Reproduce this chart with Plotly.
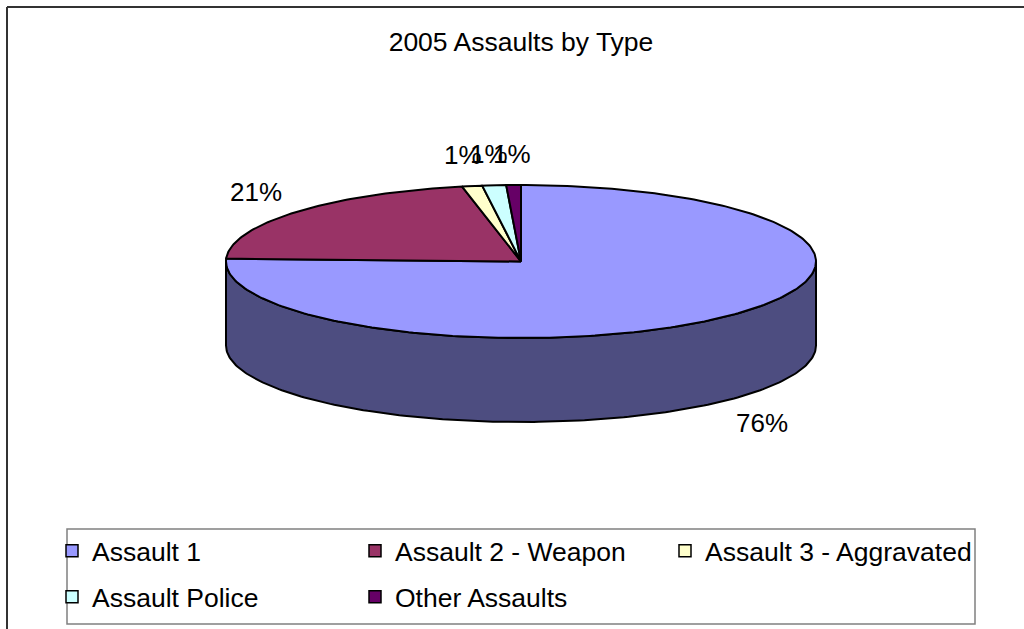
import numpy as np
import plotly.graph_objects as go

# ---- data ----
categories = ["Assault 1", "Assault 2 - Weapon", "Assault 3 - Aggravated",
              "Assault Police", "Other Assaults"]
values = [75.6, 21.2, 1.1, 1.3, 0.8]
top_colors = ["#9999FF", "#993366", "#FFFFCC", "#CCFFFF", "#660066"]
side_colors = ["#4D4D80", "#4D1A33", "#808066", "#668080", "#330033"]
title_text = "2005 Assaults by Type"

# ---- geometry (pixel space) ----
W, H = 1024, 629
CX, CY, RX, RY, DEPTH = 521, 261.5, 295, 76.5, 84
LX, LY = RX + 52, RY + 31
FONT = "Liberation Sans, Arial, sans-serif"
# legend slot positions (left x, top y) in pixels, one per category
LEG_X = [52, 355, 665, 52, 355]
LEG_Y = [527, 527, 527, 573, 573]


def arc(a, b, dy=0.0):
    n = max(2, int(abs(b - a)) + 2)
    t = np.radians(np.linspace(a, b, n))
    return list(CX + RX * np.sin(t)), list(CY - RY * np.cos(t) + dy)


total = sum(values)
bounds = np.concatenate([[0], np.cumsum(values) / total * 360.0])

fig = go.Figure()

# side walls (visible front half: 90..270 deg)
for i, c in enumerate(categories):
    a, b = max(bounds[i], 90), min(bounds[i + 1], 270)
    if b <= a:
        continue
    xt, yt = arc(a, b)
    xb, yb = arc(b, a, DEPTH)
    fig.add_trace(go.Scatter(x=xt + xb + [xt[0]], y=yt + yb + [yt[0]],
                             mode="lines", fill="toself", fillcolor=side_colors[i],
                             line=dict(color="black", width=2), hoverinfo="skip",
                             showlegend=False))

# top faces
for i, c in enumerate(categories):
    xa, ya = arc(bounds[i], bounds[i + 1])
    fig.add_trace(go.Scatter(x=[CX] + xa + [CX], y=[CY] + ya + [CY],
                             mode="lines", fill="toself", fillcolor=top_colors[i],
                             line=dict(color="black", width=2), name=c,
                             hoverinfo="name", showlegend=False))

# legend entries (one legend slot per category)
legend_layouts = {}
for i, c in enumerate(categories):
    lid = "legend" if i == 0 else f"legend{i + 1}"
    fig.add_trace(go.Scatter(x=[None], y=[None], mode="markers", name=c,
                             legend=lid,
                             marker=dict(symbol="square", size=12, color=top_colors[i],
                                         line=dict(color="black", width=1.5))))
    legend_layouts[lid] = dict(x=LEG_X[i] / W, y=1 - LEG_Y[i] / H,
                               orientation="h", xanchor="left", yanchor="top",
                               borderwidth=0, bgcolor="rgba(0,0,0,0)",
                               font=dict(size=26.5, color="black", family=FONT))

# percentage labels
annotations = []
for i, v in enumerate(values):
    mid = np.radians((bounds[i] + bounds[i + 1]) / 2)
    x = CX + LX * np.sin(mid)
    y = CY - LY * np.cos(mid) + (DEPTH if np.cos(mid) < 0 else 0)
    annotations.append(dict(x=x, y=y, xref="x", yref="y", showarrow=False,
                            text=f"{round(v / total * 100)}%",
                            font=dict(size=26, color="black", family=FONT)))

shapes = [
    dict(type="line", xref="x", yref="y", x0=7, x1=W + 5, y0=7, y1=7,
         line=dict(color="#333333", width=2)),
    dict(type="line", xref="x", yref="y", x0=7, x1=7, y0=7, y1=H + 5,
         line=dict(color="#333333", width=2)),
    dict(type="rect", xref="x", yref="y", x0=67, x1=975, y0=529, y1=624,
         line=dict(color="#808080", width=1.5), fillcolor="rgba(0,0,0,0)"),
]

fig.update_layout(
    width=W, height=H,
    margin=dict(l=0, r=0, t=0, b=0, autoexpand=False),
    paper_bgcolor="white", plot_bgcolor="white",
    xaxis=dict(range=[0, W], visible=False, fixedrange=True),
    yaxis=dict(range=[H, 0], visible=False, fixedrange=True),
    title=dict(text=title_text, x=521 / W, xanchor="center", y=1 - 42 / H,
               yanchor="middle", font=dict(size=26.5, color="black", family=FONT)),
    annotations=annotations,
    shapes=shapes,
    showlegend=True,
    **legend_layouts,
)

fig.write_html("out.html", config={"displayModeBar": False},
               post_script="document.body.style.margin='0';document.body.style.overflow='hidden';")
